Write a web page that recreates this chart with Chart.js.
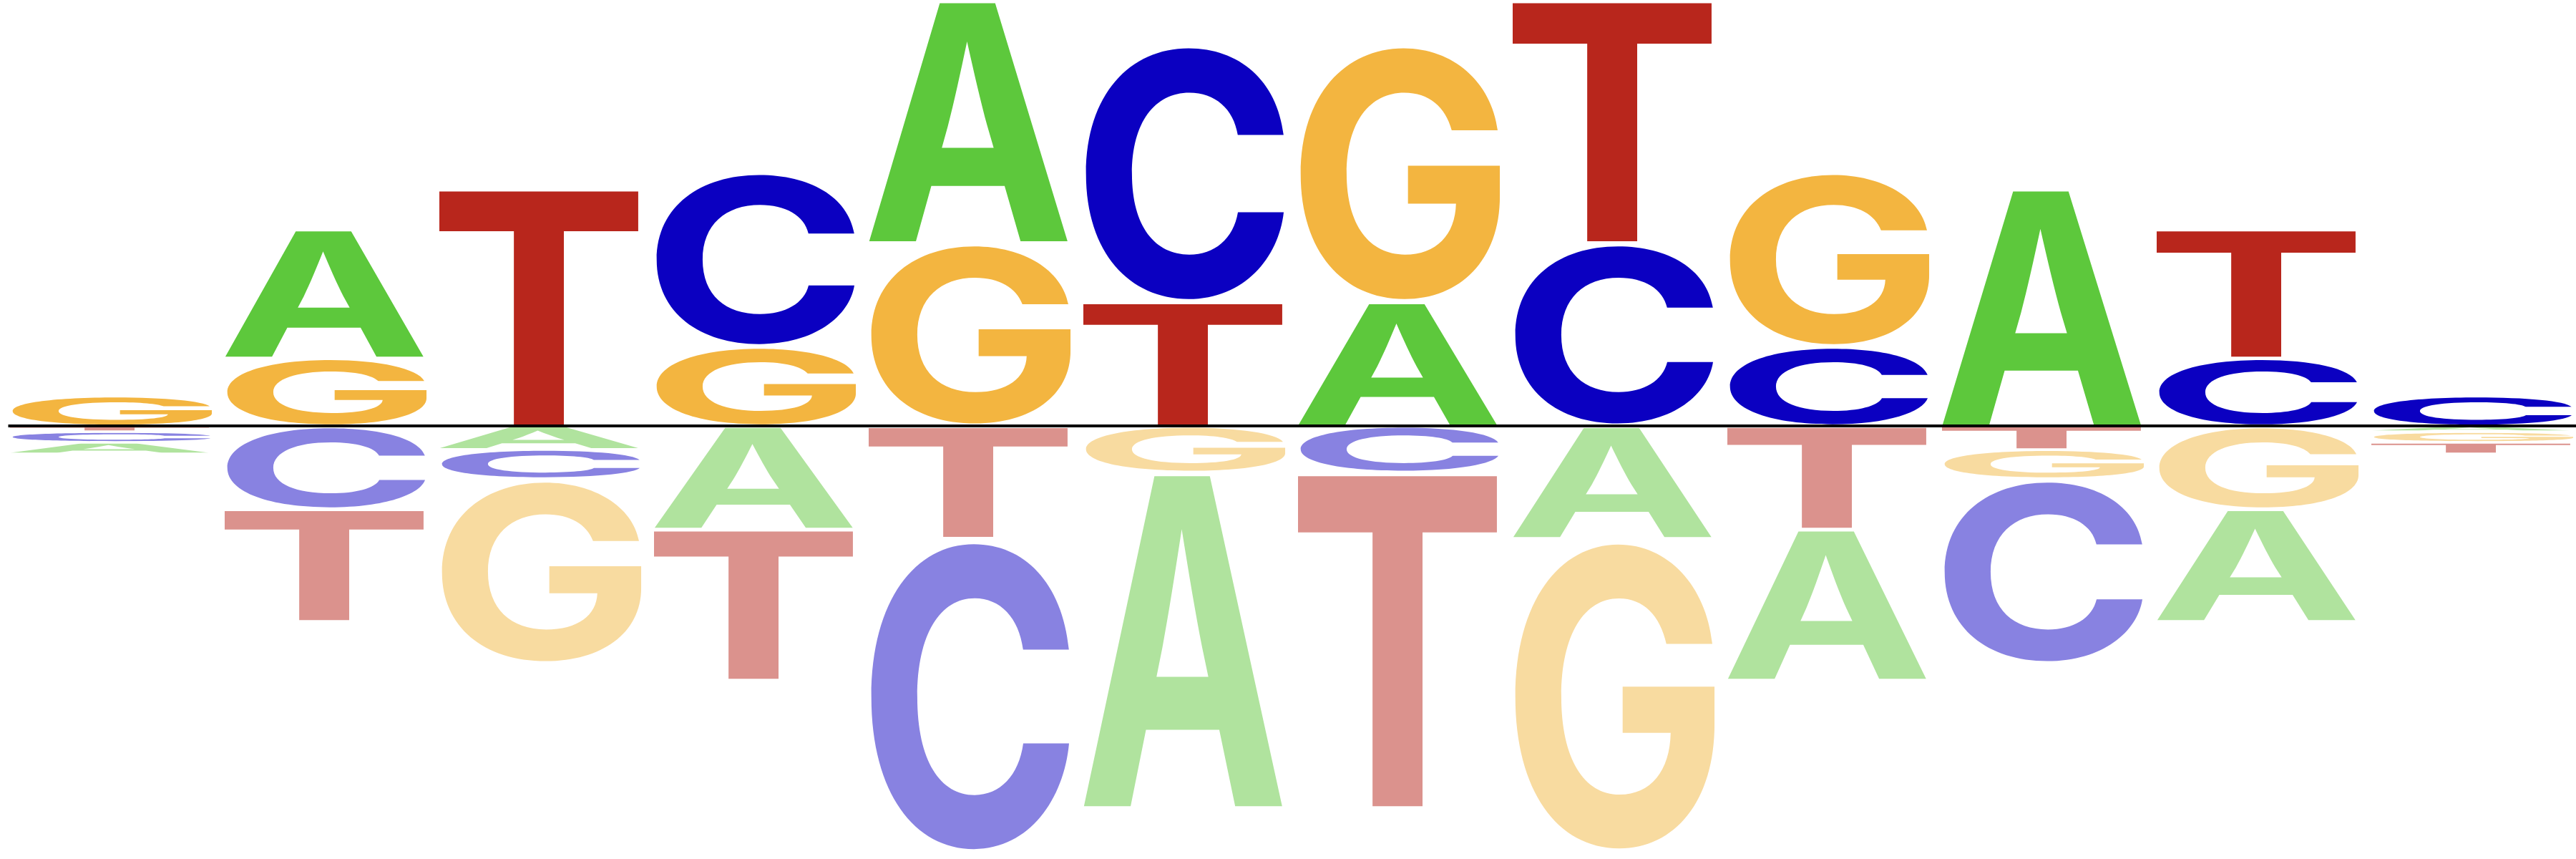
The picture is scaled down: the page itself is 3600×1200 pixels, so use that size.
<!DOCTYPE html>
<html><head><meta charset="utf-8">
<script src="https://cdn.jsdelivr.net/npm/chart.js@4.4.1/dist/chart.umd.min.js"></script>
<style>
html,body{margin:0;padding:0;background:#fff;overflow:hidden;width:3600px;height:1200px}
#wrap{position:absolute;left:4px;top:0;width:3600px;height:1200px}
</style></head><body>
<div id="wrap"><canvas id="c" width="3600" height="1200"></canvas></div>
<script>
// Positions of the motif
const positions = ['1','2','3','4','5','6','7','8','9','10','11','12'];
// Letter heights above the baseline
const A_up = [0, 1.80, 0, 0, 3.385, 0, 1.73, 0, 0, 3.32, 0, 0];
const C_up = [0, 0, 0, 2.45, 0, 3.62, 0, 2.565, 1.11, 0, 0.95, 0.42];
const G_up = [0.42, 0.95, 0, 1.11, 2.565, 0, 3.62, 0, 2.45, 0, 0, 0];
const T_up = [0, 0, 3.32, 0, 0, 1.73, 0, 3.385, 0, 0, 1.80, 0];
// Letter heights below the baseline (magnitudes)
const A_down = [0.16, 0, 0.325, 1.44, 0, 4.685, 0, 1.57, 2.11, 0, 1.57, 0.08];
const C_down = [0.15, 1.16, 0.41, 0, 4.395, 0, 0.645, 0, 0, 2.585, 0, 0];
const G_down = [0, 0, 2.585, 0, 0, 0.645, 0, 4.38, 0, 0.405, 1.16, 0.15];
const T_down = [0.08, 1.57, 0, 2.11, 1.565, 0, 4.685, 0, 1.44, 0.33, 0, 0.16];
const yMax = 5.95, yMin = -6.05;

const letters = ['A','C','G','T'];
const upColors = {A:'#5DC83C', C:'#0B00C1', G:'#F3B540', T:'#B8261C'};
const downColors = {A:'#B0E39E', C:'#8882E1', G:'#F8DBA0', T:'#DB928D'};
const upVals = {A:A_up, C:C_up, G:G_up, T:T_up};
const downVals = {A:A_down, C:C_down, G:G_down, T:T_down};

function stackRanges(vals, sign){
  const out = {A:[],C:[],G:[],T:[]};
  positions.forEach((p,i)=>{
    const items = letters.map(L=>({L, v: vals[L][i]})).filter(o=>o.v>0);
    items.sort((a,b)=>a.v-b.v);
    let acc = 0;
    letters.forEach(L=>out[L][i]=null);
    items.forEach(o=>{
      const lo = acc, hi = acc + o.v;
      out[o.L][i] = sign>0 ? [lo, hi] : [-hi, -lo];
      acc = hi;
    });
  });
  return out;
}
const upR = stackRanges(upVals, 1), downR = stackRanges(downVals, -1);
const datasets = [];
letters.forEach(L=>datasets.push({label:L+'+', letter:L, glyphColor:upColors[L], data:upR[L], backgroundColor:'rgba(0,0,0,0)', borderWidth:0}));
letters.forEach(L=>datasets.push({label:L+'-', letter:L, glyphColor:downColors[L], data:downR[L], backgroundColor:'rgba(0,0,0,0)', borderWidth:0}));

const FONT = 'bold 400px Inter, "Liberation Sans", Arial, sans-serif';
function drawGlyph(ctx, ch, x, y, w, h, color){
  if (h <= 0.5 || w <= 0) return;
  ctx.save();
  ctx.font = FONT;
  ctx.textAlign = 'left';
  ctx.textBaseline = 'alphabetic';
  const m = ctx.measureText(ch);
  const gw = m.actualBoundingBoxLeft + m.actualBoundingBoxRight;
  const gh = m.actualBoundingBoxAscent + m.actualBoundingBoxDescent;
  ctx.beginPath();
  ctx.rect(x, y, w, h);
  ctx.clip();
  ctx.translate(x, y);
  ctx.scale(w/gw, h/gh);
  ctx.fillStyle = color;
  ctx.fillText(ch, m.actualBoundingBoxLeft, m.actualBoundingBoxAscent);
  ctx.restore();
}

const logoPlugin = {
  id:'logo',
  afterDatasetsDraw(chart){
    const ctx = chart.ctx;
    let firstLeft = null;
    chart.data.datasets.forEach((ds, di)=>{
      const meta = chart.getDatasetMeta(di);
      meta.data.forEach((bar, i)=>{
        if (ds.data[i] == null) return;
        const p = bar.getProps(['x','y','base','width'], true);
        const top = Math.min(p.y, p.base) + 1.5;
        const bot = Math.max(p.y, p.base) - 1.5;
        const left = p.x - p.width/2;
        if (i === 0 && (firstLeft === null || left < firstLeft)) firstLeft = left;
        drawGlyph(ctx, ds.letter, left, top, p.width, bot - top, ds.glyphColor);
      });
    });
    const y0 = chart.scales.y.getPixelForValue(0);
    ctx.save();
    ctx.fillStyle = '#000';
    ctx.fillRect(firstLeft, y0 - 2, chart.width - firstLeft, 4);
    ctx.restore();
  }
};

new Chart(document.getElementById('c'), {
  type:'bar',
  data:{labels:positions, datasets},
  options:{
    responsive:false,
    devicePixelRatio:1,
    animation:false,
    layout:{padding:0},
    datasets:{bar:{grouped:false, categoryPercentage:1, barPercentage:0.95}},
    plugins:{legend:{display:false}, tooltip:{enabled:false}},
    scales:{
      x:{display:false},
      y:{display:false, min:yMin, max:yMax}
    }
  },
  plugins:[logoPlugin]
});
</script>
</body></html>
